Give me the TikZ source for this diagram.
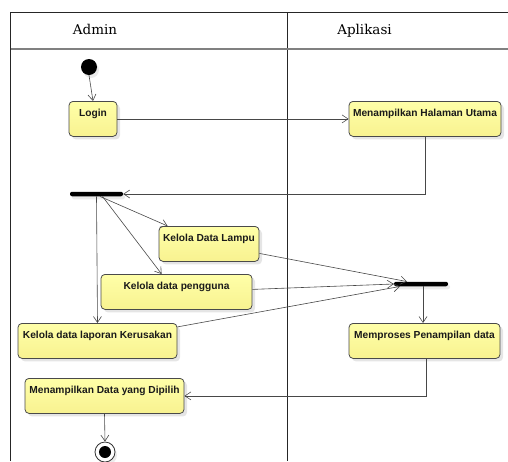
\documentclass[tikz,border=0pt]{standalone}
\usepackage{fontspec}
\setmainfont{Liberation Sans}
\newfontfamily\headfont{DejaVu Serif}
\usetikzlibrary{arrows.meta,shadows}
\definecolor{boxtop}{HTML}{FFFFA8}
\definecolor{boxbot}{HTML}{F8F290}
\definecolor{boxline}{HTML}{4A4A4A}
\definecolor{wire}{HTML}{484848}
\definecolor{txt}{HTML}{1A1A1A}
\tikzset{
  act/.style={rectangle, rounded corners=4pt, draw=boxline, line width=0.8pt,
    top color=boxtop, bottom color=boxbot, inner sep=0pt, anchor=north,
    minimum height=35pt, text height=15pt, text depth=20pt,
    font=\bfseries\fontsize{10.2}{12}\selectfont, text=txt,
    drop shadow={shadow xshift=3pt, shadow yshift=-3pt, fill=black!10, opacity=1}},
  bar/.style={rectangle, rounded corners=2pt, fill=black, inner sep=0pt,
    minimum height=4.5pt,
    drop shadow={shadow xshift=2pt, shadow yshift=-3pt, fill=black!8, opacity=1}},
  flow/.style={draw=wire, line width=0.6pt, -{Straight Barb[length=6pt,width=8pt,line width=0.6pt]}},
  lanehead/.style={font=\headfont\fontsize{13.5}{15}\selectfont, text=black, inner sep=0pt, anchor=base}
}
\begin{document}
\begin{tikzpicture}[x=1pt,y=-1pt]
\useasboundingbox (0,0) rectangle (508,461);
% swimlanes
\draw[black!85, line width=0.7pt] (10.7,461) -- (10.7,12) -- (508,12);
\draw[black!85, line width=0.7pt] (287,12) -- (287,461);
\draw[black!50, line width=1.2pt] (10.7,49) -- (508,49);
\node[lanehead] (hadmin) at (95,34) {Admin};
\node[lanehead] (happ) at (364.5,34) {Aplikasi};
% nodes
\node[circle, fill=black, inner sep=0pt, minimum size=16pt,
  drop shadow={shadow xshift=2pt, shadow yshift=-3pt, fill=black!8, opacity=1}] (init) at (89,67) {};
\node[act, minimum width=48pt] (login) at (93,101) {Login};
\node[act, minimum width=152pt] (mhu) at (425,101) {Menampilkan Halaman Utama};
\node[bar, minimum width=53pt] (fork) at (96.5,194) {};
\node[act, minimum width=100pt] (kdl) at (209,226) {Kelola Data Lampu};
\node[act, minimum width=151pt] (kdp) at (176.5,274) {Kelola data pengguna};
\node[act, minimum width=159pt] (kdlk) at (97.5,323) {Kelola data laporan Kerusakan};
\node[bar, minimum width=54pt] (join) at (421,284) {};
\node[act, minimum width=151pt] (mpd) at (424.5,323) {Memproses Penampilan data};
\node[act, minimum width=159pt] (mdyd) at (104.5,378) {Menampilkan Data yang Dipilih};
\node[circle, draw=black!80, line width=0.8pt, fill=white, inner sep=0pt, minimum size=20pt,
  drop shadow={shadow xshift=2pt, shadow yshift=-3pt, fill=black!8, opacity=1}] (final) at (105,452) {};
\node[circle, fill=black, inner sep=0pt, minimum size=12pt] (finaldot) at (final.center) {};
% connectors
\draw[flow] (init.south) -- (login.north);
\draw[flow] (login.east) -- (mhu.west);
\draw[flow] (mhu.south) |- (fork.east);
\draw[flow] (fork.south) -- (kdlk.north);
\draw[flow] ([xshift=3.5pt]fork.south) -- ([xshift=9pt]kdl.north west);
\draw[flow] ([xshift=6pt]fork.south) -- ([xshift=61pt]kdp.north west);
\draw[flow] ([yshift=-9.5pt]kdl.east) -- ([xshift=-14pt]join.north);
\draw[flow] ([yshift=2.5pt]kdp.east) -- (join.west);
\draw[flow] ([yshift=14pt]kdlk.east) -- ([xshift=-21pt]join.south);
\draw[flow] ([xshift=2pt]join.south) -- ([xshift=2pt]join.south |- mpd.north);
\draw[flow] ([xshift=1.5pt]mpd.south) |- (mdyd.east);
\draw[flow] (mdyd.south) -- (final.north);
\end{tikzpicture}
\end{document}
